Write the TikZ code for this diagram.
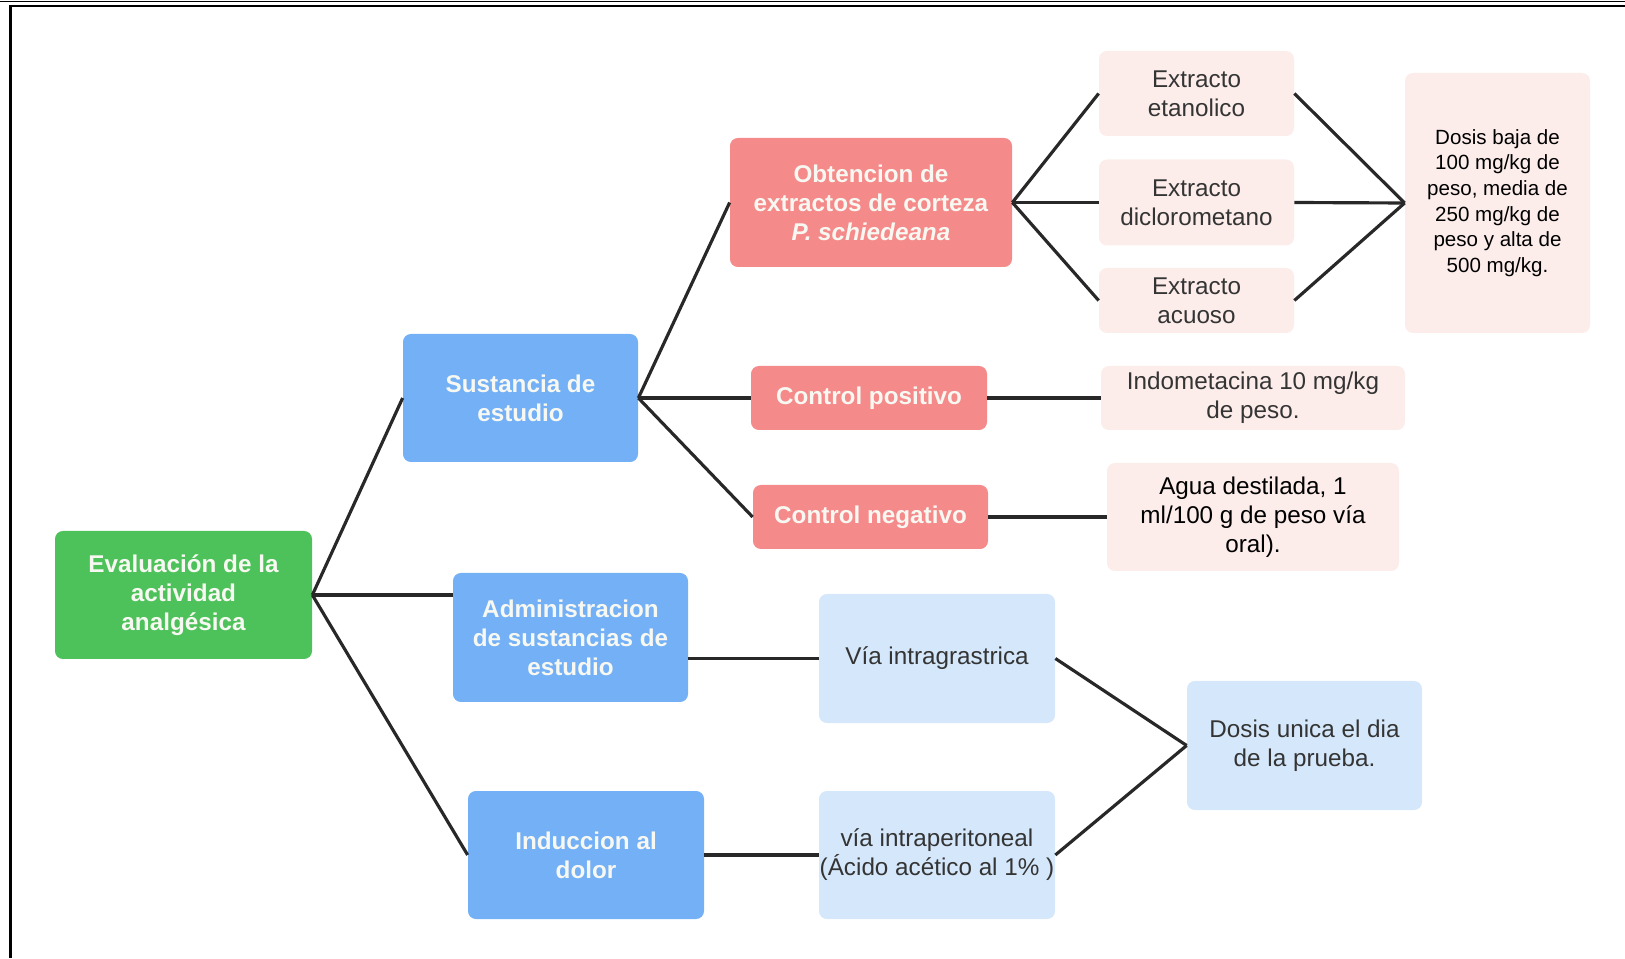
\documentclass[tikz,border=0pt]{standalone}
\usepackage{fontspec}
\setmainfont{Liberation Sans}
\usepackage{tikz}
\usepackage{xcolor}
\usetikzlibrary{arrows.meta}

\definecolor{verde}{RGB}{77,194,90}
\definecolor{azul}{RGB}{115,176,246}
\definecolor{rojo}{RGB}{245,138,138}
\definecolor{rosa}{RGB}{252,237,235}
\definecolor{celeste}{RGB}{213,231,250}
\definecolor{claro}{RGB}{248,248,242}
\definecolor{oscuro}{RGB}{52,52,52}
\definecolor{linea}{RGB}{40,40,40}

\begin{document}
\begin{tikzpicture}[
  box/.style={rounded corners=4.5pt, align=center, inner sep=0pt},
  fuerte/.style={box, text=claro, font=\fontsize{13.8}{16.5}\selectfont\bfseries},
  suave/.style={box, text=oscuro, font=\fontsize{13.8}{16.5}\selectfont},
  verdebox/.style={fuerte, fill=verde},
  azulbox/.style={fuerte, fill=azul},
  rojobox/.style={fuerte, fill=rojo},
  rosabox/.style={suave, fill=rosa},
  celestebox/.style={suave, fill=celeste},
  conector/.style={draw=linea, line width=1.8pt}]
\useasboundingbox (0,0) rectangle (32.5,19.16);

% marco
\draw[line width=0.5pt] (0,19.14) -- (32.5,19.14);
\draw[line width=1.3pt] (32.5,19.04) -- (0.21,19.04) -- (0.21,0);

% raiz
\node[verdebox, minimum width=5.14cm, minimum height=2.56cm] (eval) at (3.67,7.26)
  {Evaluación de la\\actividad\\analgésica};

% nivel 1
\node[azulbox, minimum width=4.7cm, minimum height=2.56cm] (sust) at (10.41,11.2)
  {Sustancia de\\estudio};
\node[azulbox, minimum width=4.7cm, minimum height=2.58cm] (admin) at (11.41,6.41)
  {Administracion\\de sustancias de\\estudio};
\node[azulbox, minimum width=4.72cm, minimum height=2.56cm] (induc) at (11.72,2.06)
  {Induccion al\\dolor};

% nivel 2
\node[rojobox, minimum width=5.64cm, minimum height=2.58cm] (obt) at (17.42,15.11)
  {Obtencion de\\extractos de corteza\\\textit{P. schiedeana}};
\node[rojobox, minimum width=4.72cm, minimum height=1.28cm] (cpos) at (17.38,11.2)
  {Control positivo};
\node[rojobox, minimum width=4.7cm, minimum height=1.28cm] (cneg) at (17.41,8.82)
  {Control negativo};
\node[celestebox, minimum width=4.72cm, minimum height=2.58cm] (vintra) at (18.74,5.99)
  {Vía intragrastrica};
\node[celestebox, minimum width=4.72cm, minimum height=2.56cm] (vperi) at (18.74,2.06)
  {vía intraperitoneal\\(Ácido acético al 1\% )};

% nivel 3
\node[rosabox, minimum width=3.9cm, minimum height=1.7cm] (etan) at (23.93,17.29)
  {Extracto\\etanolico};
\node[rosabox, minimum width=3.9cm, minimum height=1.72cm] (diclo) at (23.93,15.11)
  {Extracto\\diclorometano};
\node[rosabox, minimum width=3.9cm, minimum height=1.3cm] (acuo) at (23.93,13.15)
  {Extracto\\acuoso};
\node[rosabox, minimum width=6.08cm, minimum height=1.28cm] (indo) at (25.06,11.2)
  {Indometacina 10 mg/kg\\de peso.};
\node[rosabox, text=black, minimum width=5.84cm, minimum height=2.16cm] (agua) at (25.06,8.82)
  {Agua destilada, 1\\ml/100 g de peso vía\\oral).};
\node[celestebox, minimum width=4.7cm, minimum height=2.58cm] (dunica) at (26.09,4.25)
  {Dosis unica el dia\\de la prueba.};

% nivel 4
\node[rosabox, text=black, font=\fontsize{11.7}{14.6}\selectfont,
  minimum width=3.7cm, minimum height=5.2cm] (dbaja) at (29.95,15.1)
  {Dosis baja de\\100 mg/kg de\\peso, media de\\250 mg/kg de\\peso y alta de\\500 mg/kg.};

% conectores
\draw[conector] (eval.east) -- (sust.west);
\draw[conector] (eval.east) -- (eval.east -| admin.west);
\draw[conector] (eval.east) -- (induc.west);
\draw[conector] (sust.east) -- (obt.west);
\draw[conector] (sust.east) -- (cpos.west);
\draw[conector] (sust.east) -- (cneg.west);
\draw[conector] (obt.east) -- (etan.west);
\draw[conector] (obt.east) -- (diclo.west);
\draw[conector] (obt.east) -- (acuo.west);
\draw[conector] (etan.east) -- (dbaja.west);
\draw[conector] (diclo.east) -- (dbaja.west);
\draw[conector] (acuo.east) -- (dbaja.west);
\draw[conector] (cpos.east) -- (indo.west);
\draw[conector] (cneg.east) -- (agua.west);
\draw[conector] (vintra.west -| admin.east) -- (vintra.west);
\draw[conector] (induc.east) -- (vperi.west);
\draw[conector] (vintra.east) -- (dunica.west);
\draw[conector] (vperi.east) -- (dunica.west);
\end{tikzpicture}
\end{document}
